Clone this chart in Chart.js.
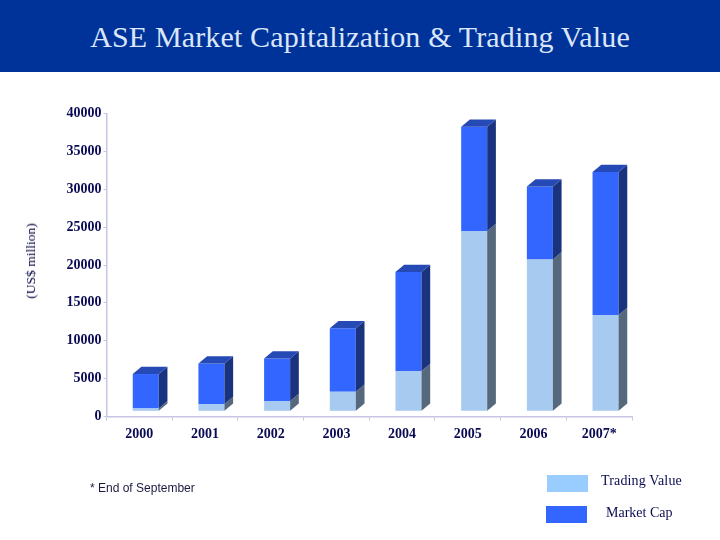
<!DOCTYPE html>
<html>
<head>
<meta charset="utf-8">
<title>ASE Market Capitalization & Trading Value</title>
<script src="https://cdn.jsdelivr.net/npm/chart.js@4"></script>
<style>
  html, body { margin: 0; padding: 0; background: #fff; }
  #page { position: relative; width: 720px; height: 540px; overflow: hidden; }
  #page div { position: absolute; white-space: nowrap; }
  #banner { left: 0; top: 0; width: 720px; height: 72px; background: #003399; }
  #heading { left: 0; top: 21px; width: 720px; text-align: center; color: #dbe6fa;
    font: 30px/32px "Liberation Serif", serif; letter-spacing: 0.15px; }
  #unit { left: 31px; top: 261px; color: #000040; font: 13.5px/16px "Liberation Serif", serif;
    transform: translate(-50%, -50%) rotate(-90deg); }
  #note { left: 90px; top: 481px; color: #1a1a40; font: 12px/14px "Liberation Sans", sans-serif; }
  .swatch { width: 41px; height: 17px; }
  .key { color: #0b0b50; font: 14px/16px "Liberation Serif", serif; }
  canvas { position: absolute; left: 0; top: 0; }
</style>
</head>
<body>
<div id="page">
  <canvas id="chart" width="720" height="540"></canvas>
  <div id="banner"></div>
  <div id="heading">ASE Market Capitalization &amp; Trading Value</div>
  <div id="unit">(US$ million)</div>
  <div id="note">* End of September</div>
  <div class="swatch" style="left:547px;top:475px;background:#99ccff"></div>
  <div class="key" style="left:601px;top:473px;letter-spacing:0.15px">Trading Value</div>
  <div class="swatch" style="left:546px;top:506px;background:#3366ff"></div>
  <div class="key" style="left:606px;top:505px">Market Cap</div>
</div>
<script>
var years = ['2000', '2001', '2002', '2003', '2004', '2005', '2006', '2007*'];
var tradingValue = [380, 960, 1360, 2580, 5310, 23800, 20050, 12710];
var marketCap = [4540, 5360, 5620, 8370, 13070, 13770, 9620, 18870];

// the 3d look: front faces sit a little right of the band and above the axis
var shiftX = 6.4, shiftY = -5.2, depthX = 8.7, depthY = 7.3;
var sideColors = ['#56687c', '#1a337f'];
var topColor = '#2549b5';

var bars3d = {
  id: 'bars3d',
  beforeDatasetsDraw: function (chart) {
    chart.ctx.save();
    chart.ctx.translate(shiftX, shiftY);
  },
  afterDatasetsDraw: function (chart) {
    var ctx = chart.ctx;
    chart.data.datasets.forEach(function (ds, i) {
      chart.getDatasetMeta(i).data.forEach(function (bar) {
        var right = bar.x + bar.width / 2;
        var left = bar.x - bar.width / 2;
        ctx.fillStyle = sideColors[i];
        ctx.beginPath();
        ctx.moveTo(right, bar.y);
        ctx.lineTo(right + depthX, bar.y - depthY);
        ctx.lineTo(right + depthX, bar.base - depthY);
        ctx.lineTo(right, bar.base);
        ctx.closePath();
        ctx.fill();
        if (i === chart.data.datasets.length - 1) {
          ctx.fillStyle = topColor;
          ctx.beginPath();
          ctx.moveTo(left, bar.y);
          ctx.lineTo(left + depthX, bar.y - depthY);
          ctx.lineTo(right + depthX, bar.y - depthY);
          ctx.lineTo(right, bar.y);
          ctx.closePath();
          ctx.fill();
        }
      });
    });
    ctx.restore();
  }
};

var axisColor = '#c6c6e2';
var tickFont = { family: '"Liberation Serif", serif', size: 14, weight: 'bold' };

new Chart(document.getElementById('chart'), {
  type: 'bar',
  plugins: [bars3d],
  data: {
    labels: years,
    datasets: [{
      label: 'Trading Value',
      data: tradingValue,
      backgroundColor: '#a6caf0',
      clip: false
    }, {
      label: 'Market Cap',
      data: marketCap,
      backgroundColor: '#3366ff',
      clip: false
    }]
  },
  options: {
    responsive: false,
    animation: false,
    layout: { padding: { top: 113.5, right: 88, bottom: 93.5, left: 0 } },
    plugins: { legend: { display: false }, title: { display: false }, tooltip: { enabled: false } },
    datasets: { bar: { categoryPercentage: 0.396, barPercentage: 1 } },
    scales: {
      x: {
        stacked: true,
        afterFit: function (scale) { scale.height = 30; },
        grid: { drawOnChartArea: false, color: axisColor, tickLength: 4 },
        border: { color: axisColor, width: 1.5 },
        ticks: { color: '#0b0b55', font: tickFont, padding: 5, maxRotation: 0 }
      },
      y: {
        stacked: true,
        min: 0,
        max: 40000,
        afterFit: function (scale) { scale.width = 106.5; },
        grid: { drawOnChartArea: false, color: axisColor, tickLength: 3 },
        border: { color: axisColor, width: 1.5 },
        ticks: {
          stepSize: 5000,
          color: '#0b0b55',
          font: tickFont,
          padding: 2,
          callback: function (value) { return String(value); }
        }
      }
    }
  }
});
</script>
</body>
</html>
